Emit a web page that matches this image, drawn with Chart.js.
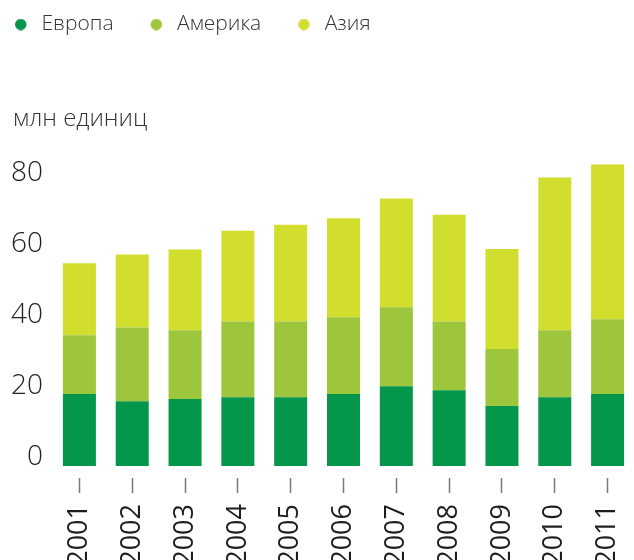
<!DOCTYPE html>
<html lang="ru">
<head>
<meta charset="utf-8">
<title>Производство по регионам</title>
<script src="https://cdn.jsdelivr.net/npm/chart.js@4"></script>
<style>
    html, body { margin: 0; padding: 0; background: #fff; }
    #wrap { width: 634px; height: 560px; position: relative; }
</style>
</head>
<body>
<div id="wrap"><canvas id="chart"></canvas></div>
<script>
// Data (млн единиц)
const years = ['2001', '2002', '2003', '2004', '2005', '2006', '2007', '2008', '2009', '2010', '2011'];
const europe  = [20.3, 18.3, 18.9, 19.4, 19.4, 20.3, 22.5, 21.4, 16.9, 19.4, 20.3];
const america = [16.6, 20.8, 19.4, 21.4, 21.4, 21.7, 22.3, 19.4, 16.1, 18.9, 21.1];
const asia    = [20.3, 20.6, 22.8, 25.6, 27.3, 27.9, 30.7, 30.1, 28.2, 43.1, 43.7];
const seriesNames = ['Европа', 'Америка', 'Азия'];
const seriesColors = ['#04964a', '#9dc63c', '#d1de2e'];
const yTicks = [0, 20, 40, 60, 80];
const unitLabel = 'млн единиц';

const fontFamily = "'Open Sans', 'Noto Sans', 'DejaVu Sans', sans-serif";

// Legend marker: a dot drawn on a wider canvas so the gaps match the original
function makeDot(color) {
    const c = document.createElement('canvas');
    c.width = 43;
    c.height = 12;
    const g = c.getContext('2d');
    g.fillStyle = color;
    g.beginPath();
    g.arc(32.75, 6, 5.75, 0, Math.PI * 2);
    g.fill();
    return c;
}

// Unit caption above the value axis
const unitCaption = {
    id: 'unitCaption',
    afterDraw(chart) {
        const ctx = chart.ctx;
        ctx.save();
        ctx.font = '300 24px ' + fontFamily;
        ctx.fillStyle = '#333';
        ctx.textAlign = 'left';
        ctx.textBaseline = 'alphabetic';
        ctx.fillText(unitLabel, 13, 126);
        ctx.restore();
    }
};

const datasets = [europe, america, asia].map((values, i) => ({
    label: seriesNames[i],
    data: values,
    backgroundColor: seriesColors[i],
    borderWidth: 0,
    pointStyle: makeDot(seriesColors[i]),
    barPercentage: 0.625,
    categoryPercentage: 1.0
}));

new Chart(document.getElementById('chart'), {
    type: 'bar',
    data: { labels: years, datasets: datasets },
    options: {
        responsive: true,
        maintainAspectRatio: false,
        animation: false,
        layout: { padding: { left: -22, top: 4, right: 0, bottom: 0 } },
        plugins: {
            legend: {
                position: 'top',
                align: 'start',
                labels: {
                    usePointStyle: true,
                    pointStyleWidth: 43,
                    boxHeight: 12,
                    padding: 10,
                    color: '#333',
                    font: { family: fontFamily, size: 21, weight: 300 }
                }
            },
            tooltip: { enabled: false }
        },
        scales: {
            x: {
                stacked: true,
                grid: {
                    display: true,
                    drawOnChartArea: false,
                    offset: false,
                    tickLength: 27,
                    tickColor: '#7a7a7a',
                    tickWidth: 1.5,
                    tickBorderDash: [0, 12, 15, 100]
                },
                border: { display: false },
                ticks: {
                    minRotation: 90,
                    maxRotation: 90,
                    padding: 11,
                    color: '#1e1e1e',
                    font: { family: fontFamily, size: 27, weight: 400 }
                },
                afterFit: scale => {
                    scale.height = 94;
                    scale.paddingLeft = 0;
                    scale.paddingRight = 0;
                }
            },
            y: {
                stacked: true,
                min: 0,
                max: 118.8,
                grid: { display: false, drawTicks: false },
                border: { display: false },
                ticks: {
                    stepSize: 20,
                    padding: 10,
                    labelOffset: -9,
                    color: '#222',
                    font: { family: fontFamily, size: 28, weight: 300 }
                },
                afterBuildTicks: scale => {
                    scale.ticks = yTicks.map(v => ({ value: v }));
                },
                afterFit: scale => { scale.width = 75; }
            }
        }
    },
    plugins: [unitCaption]
});
</script>
</body>
</html>
